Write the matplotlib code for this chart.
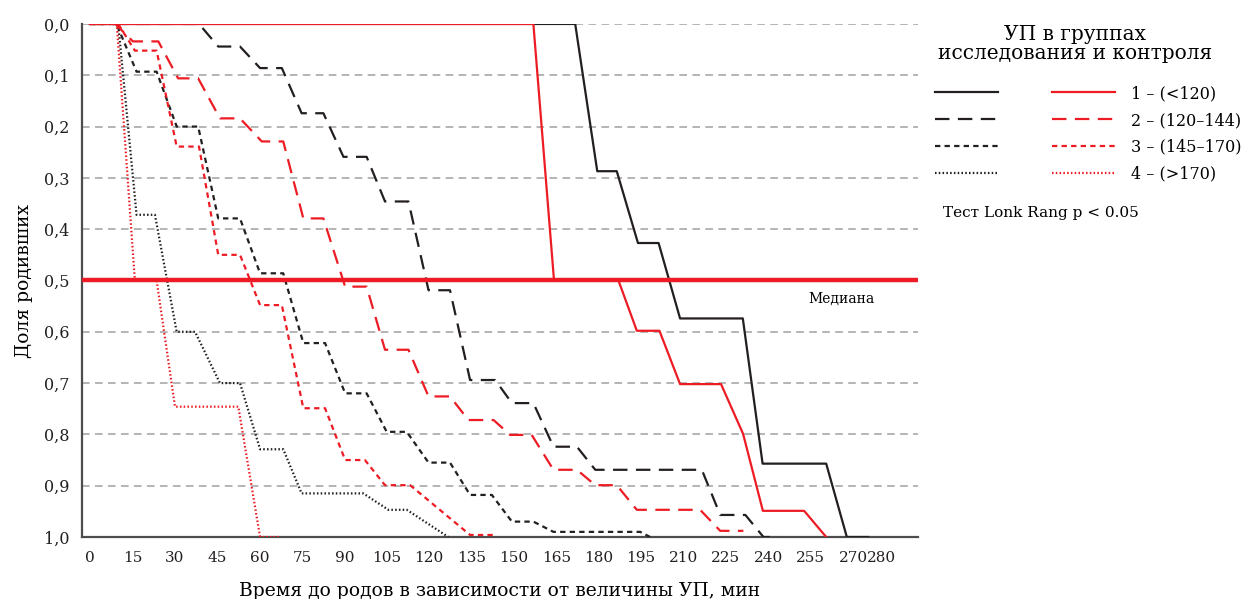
import matplotlib
matplotlib.use("Agg")
import matplotlib.pyplot as plt
from matplotlib.legend_handler import HandlerTuple

plt.rcParams['font.family'] = ['DejaVu Serif']

# time (min) / share of delivered
# group 1 (<120)
ctrl1_t = [0, 171.7, 179.5, 186.4, 193.9, 201.2, 208.8, 231.0, 238.0, 260.5, 267.8, 275.3]
ctrl1_s = [0, 0, 0.287, 0.287, 0.427, 0.427, 0.574, 0.574, 0.857, 0.857, 1.0, 1.0]
stud1_t = [0, 156.9, 164.2, 187.0, 193.5, 201.5, 208.8, 223.3, 231.1, 238.1, 252.7, 260.5]
stud1_s = [0, 0, 0.5, 0.5, 0.598, 0.598, 0.702, 0.702, 0.799, 0.949, 0.949, 1.0]
# group 2 (120-144)
ctrl2_t = [0, 38.6, 45.4, 53.1, 60.2, 67.9, 74.9, 82.6, 89.7, 97.9, 104.4, 112.7, 119.8,
           127.4, 134.5, 143.4, 149.3, 156.9, 164.0, 172.3, 178.8, 216.5, 223.0, 231.9, 238.3, 243.6]
ctrl2_s = [0, 0, 0.044, 0.044, 0.086, 0.086, 0.174, 0.174, 0.259, 0.259, 0.346, 0.346, 0.519,
           0.519, 0.694, 0.694, 0.739, 0.739, 0.824, 0.824, 0.869, 0.869, 0.957, 0.957, 1.0, 1.0]
stud2_t = [0, 9.0, 15.2, 24.2, 31.2, 38.3, 46.0, 53.1, 60.8, 68.4, 75.5, 82.6, 90.3, 97.9,
           104.4, 112.7, 119.8, 127.4, 133.9, 142.8, 148.7, 156.3, 164.0, 172.3, 178.8,
           186.4, 193.5, 215.9, 223.0, 231.2]
stud2_s = [0, 0, 0.034, 0.034, 0.106, 0.106, 0.184, 0.184, 0.229, 0.229, 0.379, 0.379, 0.512,
           0.512, 0.635, 0.635, 0.726, 0.726, 0.772, 0.772, 0.801, 0.801, 0.869, 0.869, 0.899,
           0.899, 0.947, 0.947, 0.988, 0.988]
# group 3 (145-170)
ctrl3_t = [0, 9.4, 16.5, 23.6, 30.7, 38.3, 45.4, 53.1, 60.2, 68.4, 75.5, 83.2, 90.3, 97.9,
           105.0, 112.1, 119.8, 127.4, 134.5, 142.2, 149.3, 156.9, 164.0, 194.7, 198.2]
ctrl3_s = [0, 0, 0.093, 0.093, 0.2, 0.2, 0.379, 0.379, 0.486, 0.486, 0.622, 0.622, 0.72, 0.72,
           0.795, 0.795, 0.855, 0.855, 0.918, 0.918, 0.97, 0.97, 0.99, 0.99, 1.0]
stud3_t = [0, 10.0, 15.9, 23.6, 30.7, 38.6, 45.4, 53.1, 60.2, 67.9, 75.5, 83.2, 90.3, 97.3,
           104.4, 113.3, 134.5, 142.8]
stud3_s = [0, 0, 0.052, 0.052, 0.239, 0.239, 0.45, 0.45, 0.548, 0.548, 0.749, 0.749, 0.85,
           0.85, 0.899, 0.899, 0.996, 0.996]
# group 4 (>170)
ctrl4_t = [0, 10.0, 16.5, 23.0, 30.7, 37.2, 46.0, 53.1, 60.2, 68.4, 74.9, 96.7, 105.6, 112.1, 126.8]
ctrl4_s = [0, 0, 0.372, 0.372, 0.6, 0.6, 0.7, 0.7, 0.829, 0.829, 0.915, 0.915, 0.947, 0.947, 1.0]
stud4_t = [0, 9.5, 15.9, 23.6, 30.1, 52.5, 60.2, 67.3]
stud4_s = [0, 0, 0.5, 0.5, 0.746, 0.746, 1.0, 1.0]

labels = ['1 – (<120)', '2 – (120–144)', '3 – (145–170)', '4 – (>170)']
xticks = [0, 15, 30, 45, 60, 75, 90, 105, 120, 135, 150, 165, 180, 195, 210, 225, 240, 255, 270, 280]
yticks = [0, 0.1, 0.2, 0.3, 0.4, 0.5, 0.6, 0.7, 0.8, 0.9, 1.0]

BLACK = '#231f20'
RED = '#ed1c24'
styles = ['-', (0, (6.5, 3.8)), (0, (2.4, 1.9)), (0, (0.7, 1.0))]

fig = plt.figure(figsize=(12.54, 5.99), dpi=100)
ax = fig.add_axes([0.0654, 0.1035, 0.6667, 0.8565])

for yv in yticks[:-1]:
    ax.axhline(yv, color='#a0a0a0', lw=1.1, ls=(0, (5, 3.5)), zorder=1)

ctrl = [(ctrl1_t, ctrl1_s), (ctrl2_t, ctrl2_s), (ctrl3_t, ctrl3_s), (ctrl4_t, ctrl4_s)]
stud = [(stud1_t, stud1_s), (stud2_t, stud2_s), (stud3_t, stud3_s), (stud4_t, stud4_s)]
handles = []
for i in range(4):
    lb, = ax.plot(ctrl[i][0], ctrl[i][1], color=BLACK, lw=1.6, ls=styles[i], zorder=3)
    lr, = ax.plot(stud[i][0], stud[i][1], color=RED, lw=1.6, ls=styles[i], zorder=4)
    handles.append((lb, lr))

ax.axhline(0.5, color=RED, lw=3.2, zorder=5)

ax.set_xlim(-2.8, 293)
ax.set_ylim(1.0, 0.0)
ax.set_xticks(xticks)
ax.set_xticklabels([str(v) for v in xticks])
ax.set_yticks(yticks)
ax.set_yticklabels([('%.1f' % v).replace('.', ',') for v in yticks])
ax.tick_params(length=0, labelsize=11.5, colors='#231f20')
ax.tick_params(axis='x', labelsize=11)
ax.tick_params(axis='y', pad=9)
ax.tick_params(axis='x', pad=10)
for sp in ['top', 'right']:
    ax.spines[sp].set_visible(False)
for sp in ['left', 'bottom']:
    ax.spines[sp].set_color('#4d4d4d')
    ax.spines[sp].set_linewidth(1.6)

ax.set_xlabel('Время до родов в зависимости от величины УП, мин', fontsize=13.5, labelpad=12)
ax.set_ylabel('Доля родивших', fontsize=13.5, labelpad=8)

ax.text(0.909, 0.465, 'Медиана', transform=ax.transAxes, fontsize=10, ha='center', va='center')

fig.text(0.857, 0.927, 'УП в группах\nисследования и контроля', fontsize=14.5,
         ha='center', va='center', linespacing=1.0)
fig.legend(handles, labels, loc='upper left', bbox_to_anchor=(0.7456, 0.858),
           frameon=False, fontsize=11.5, borderpad=0, borderaxespad=0,
           handlelength=11.3, handletextpad=1.0, labelspacing=0.62,
           handler_map={tuple: HandlerTuple(ndivide=None, pad=3.4)})
fig.text(0.752, 0.644, 'Тест Lonk Rang p < 0.05', fontsize=11, ha='left', va='center')

fig.savefig('out.png', dpi=100)
